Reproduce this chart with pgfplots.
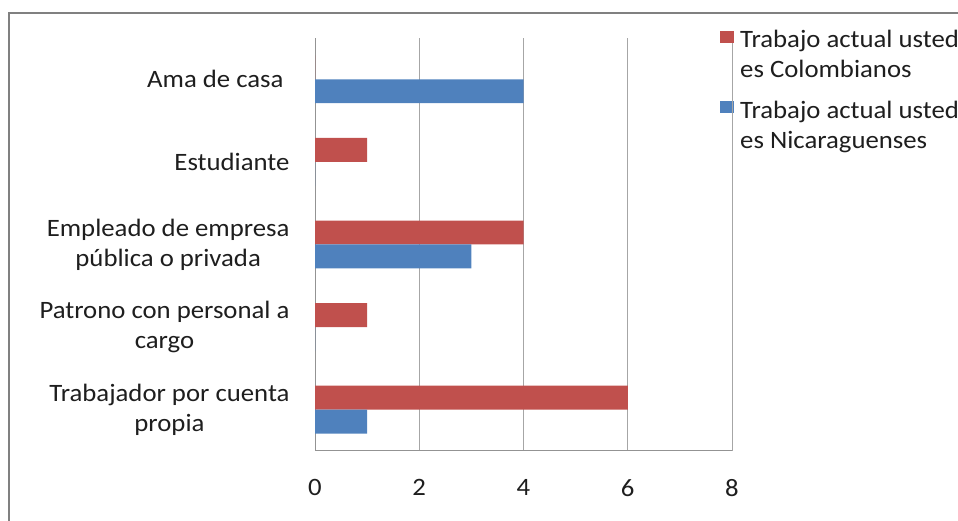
\documentclass[border=0pt]{standalone}
\usepackage{pgfplots}
\pgfplotsset{compat=1.18}
\usepackage{fontspec}
\setmainfont{Carlito}[FakeStretch=1.07]
\definecolor{cred}{HTML}{C0504D}
\definecolor{cblue}{HTML}{4F81BD}
\definecolor{txt}{HTML}{1E1E1E}
\begin{document}
\begin{tikzpicture}[x=1bp,y=1bp]
\begin{axis}[
  name=ax,
  at={(315bp,70bp)}, anchor=south west,
  width=417bp, height=413bp, scale only axis,
  xbar, bar width=0.29,
  xmin=0, xmax=8, ymin=-0.5, ymax=4.5,
  xtick={0,2,4,6,8}, ytick={0,1,2,3,4},
  yticklabels={{Trabajador por cuenta\\propia},{Patrono con personal a\\cargo},{Empleado de empresa\\pública o privada},{Estudiante},{Ama de casa\hspace*{6bp}}},
  axis lines*=left,
  axis line style={color=gray!85, line width=1bp},
  xmajorgrids, grid style={color=gray!70, line width=1bp},
  major tick length=0pt,
  tick label style={font=\fontsize{25bp}{30bp}\selectfont, text=txt},
  /pgf/number format/assume math mode=true,
  yticklabel style={align=center, xshift=-22bp},
  xticklabel style={yshift=-25bp},
  legend style={at={(axis description cs:1,1)}, anchor=north west, xshift=-12bp, yshift=10bp,
    draw=none, fill=none, inner sep=0pt, row sep=18bp,
    /tikz/every odd column/.append style={column sep=4bp},
    font=\fontsize{25bp}{30bp}\selectfont, text=txt, cells={align=left}},
  legend image code/.code={\fill[#1] (0bp,12bp) rectangle (14bp,24bp);},
]
\addplot[fill=cred, draw=none, bar shift=0.145] coordinates {(6,0) (1,1) (4,2) (1,3) (0,4)};
\addlegendentry{Trabajo actual usted\\es Colombianos}
\addplot[fill=cblue, draw=none, bar shift=-0.145] coordinates {(1,0) (0,1) (3,2) (0,3) (4,4)};
\addlegendentry{Trabajo actual usted\\es Nicaraguenses}
\end{axis}
\draw[color=gray!70, line width=1bp] (ax.south east) -- ([yshift=-12bp]ax.north east);
\draw[color=gray, line width=2bp] (9,-20) rectangle (1000,508);
\pgfresetboundingbox
\useasboundingbox (0,0) rectangle (958,521);
\end{tikzpicture}
\end{document}
